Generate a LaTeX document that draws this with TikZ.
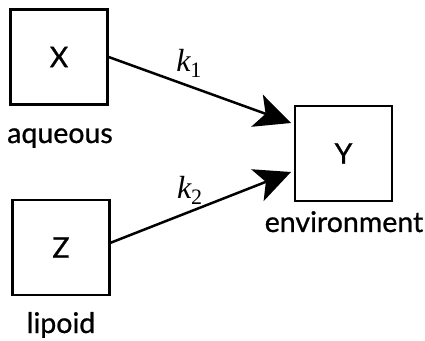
\documentclass[tikz,border=0pt]{standalone}
\usepackage{fontspec}
\setmainfont{Lato}[FakeBold=0.8]
\newfontfamily\ratefont{Liberation Serif}
\usetikzlibrary{arrows.meta, positioning, calc}
\newcommand{\rate}[1]{{\ratefont\fontsize{32}{34}\selectfont\itshape k}{\ratefont\raisebox{-6pt}{\fontsize{22}{24}\selectfont #1}}}

\begin{document}
\begin{tikzpicture}[x=1pt, y=1pt, line join=miter,
    font=\fontsize{28.5}{32}\selectfont,
    box/.style={draw, line width=2.3pt, minimum width=97pt, minimum height=95pt, inner sep=0pt},
    flow/.style={line width=2.5pt, -{Stealth[length=36pt, width=34pt, inset=9pt]}},
    caption/.style={anchor=base, inner sep=0pt}]
    \useasboundingbox (0,0) rectangle (425,340);
    % compartments
    \node[box] (X) at (59,283) {X};
    \node[box] (Z) at (61,92.5) {Z};
    \node[box] (Y) at (343.5,186.5) {Y};
    \node[caption] (aq) at (60,197) {aqueous};
    \node[caption] (lip) at (61,7) {lipoid};
    \node[caption] (env) at (344,108) {environment};
    % arrow tips
    \coordinate (T1) at (291,217);
    \coordinate (T2) at (291,168);
    \coordinate (S2) at (110,97);
    \draw[flow] (X.east) -- (T1) node[pos=0.44, above=4pt] (k1) {\rate{1}};
    \draw[flow] (S2) -- (T2) node[pos=0.44, above=3pt] (k2) {\rate{2}};
\end{tikzpicture}
\end{document}
